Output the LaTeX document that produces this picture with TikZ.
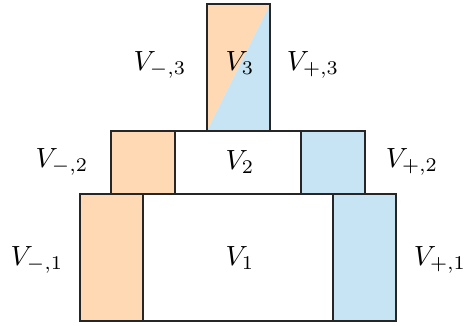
\documentclass[tikz,border=0pt]{standalone}
\usepackage{amsmath,amssymb}
\usetikzlibrary{positioning}
\definecolor{minuscol}{RGB}{254,217,179}
\definecolor{pluscol}{RGB}{198,228,244}
\tikzset{
  block/.style={draw=black!85,line width=0.6pt},
  block minus/.style={block,fill=minuscol},
  block plus/.style={block,fill=pluscol},
  vlabel/.style={inner sep=1pt}
}
\begin{document}
\begin{tikzpicture}[x=0.36pt,y=-0.36pt]
\useasboundingbox (0,0) rectangle (468,326);
% ---- level 1 ----
\draw[block,fill=white] (80,194) rectangle (396,321);
\draw[block minus] (80,194) rectangle (143,321);
\draw[block plus] (333,194) rectangle (396,321);
% ---- level 2 ----
\draw[block,fill=white] (111,131) rectangle (365,194);
\draw[block minus] (111,131) rectangle (175,194);
\draw[block plus] (301,131) rectangle (365,194);
% ---- level 3: split along the diagonal ----
\fill[minuscol] (207,4) -- (270,4) -- (207,131) -- cycle;
\fill[pluscol] (270,4) -- (270,131) -- (207,131) -- cycle;
\draw[block] (207,4) rectangle (270,131);
% ---- labels ----
\node[vlabel] (V3) at (240,63) {$V_3$};
\node[vlabel] (Vm3) at (160,65) {$V_{-,3}$};
\node[vlabel] (Vp3) at (313,65) {$V_{+,3}$};
\node[vlabel] (V2) at (240,162) {$V_2$};
\node[vlabel] (Vm2) at (62,162) {$V_{-,2}$};
\node[vlabel] (Vp2) at (412,162) {$V_{+,2}$};
\node[vlabel] (V1) at (240,258) {$V_1$};
\node[vlabel] (Vm1) at (37,260) {$V_{-,1}$};
\node[vlabel] (Vp1) at (440,260) {$V_{+,1}$};
\end{tikzpicture}
\end{document}
